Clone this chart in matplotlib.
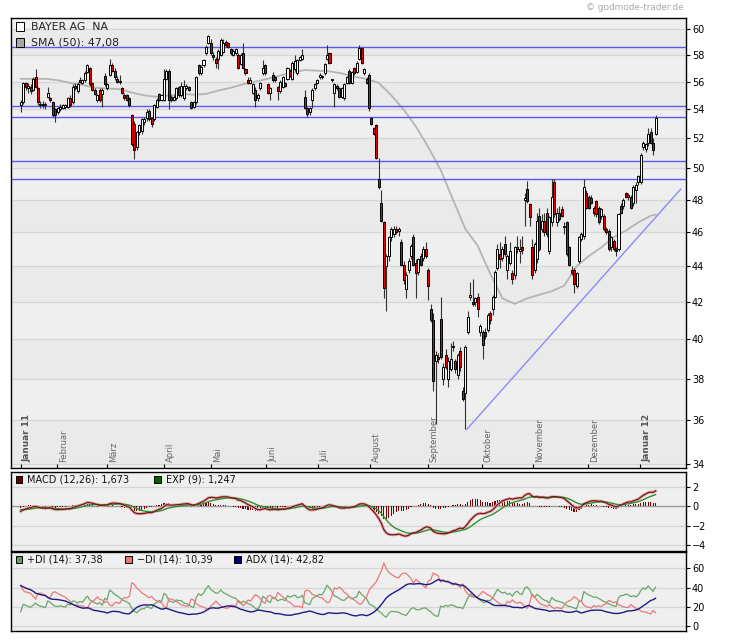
import numpy as np
import pandas as pd
import matplotlib
matplotlib.use('Agg')
import matplotlib.pyplot as plt
from matplotlib.patches import Rectangle
from matplotlib.ticker import NullLocator
from matplotlib.transforms import blended_transform_factory

# ---------------- data ----------------
opens = [54.3, 54.5, 55.9, 55.5, 55.6, 55.4, 56.3, 55.5, 54.3, 54.4,
         54.3, 54.9, 54.8, 54.5, 54.0, 53.8, 54.0, 54.1, 54.2, 54.2,
         54.8, 54.5, 55.7, 55.3, 56.1, 55.9, 56.1, 56.7, 57.0, 55.9,
         55.4, 54.7, 55.4, 55.1, 56.4, 55.5, 56.5, 57.2, 56.8, 56.2,
         56.0, 55.5, 55.0, 55.0, 54.8, 53.6, 53.0, 51.4, 52.4, 52.5,
         53.1, 53.4, 53.9, 53.4, 53.3, 54.2, 55.1, 54.7, 54.7, 56.2,
         56.8, 54.9, 54.7, 54.8, 55.6, 55.0, 54.8, 55.5, 55.6, 54.5,
         54.2, 54.5, 57.2, 56.6, 57.2, 58.1, 58.9, 58.9, 58.0, 57.7,
         57.7, 58.0, 58.2, 59.0, 58.9, 58.4, 58.0, 58.1, 58.0, 57.3,
         58.1, 56.9, 56.1, 55.9, 55.2, 55.4, 54.8, 55.5, 56.6, 57.2,
         55.8, 55.2, 56.5, 56.3, 55.6, 55.3, 55.6, 55.9, 56.2, 56.8,
         56.2, 56.9, 56.6, 57.6, 57.7, 54.9, 54.1, 53.8, 54.7, 55.5,
         55.9, 56.3, 56.3, 56.6, 57.7, 58.1, 56.1, 55.2, 55.7, 55.5,
         54.9, 54.8, 55.9, 56.8, 55.9, 57.0, 56.7, 57.7, 58.5, 56.6,
         56.2, 56.5, 53.4, 52.7, 52.9, 49.3, 47.8, 46.6, 44.0, 44.6,
         45.7, 45.9, 46.2, 46.1, 45.4, 44.1, 42.7, 43.8, 44.6, 45.7,
         44.2, 43.7, 44.6, 44.5, 45.0, 43.8, 41.6, 41.0, 38.9, 39.1,
         41.1, 38.0, 39.2, 38.0, 38.5, 39.6, 38.9, 38.2, 39.4, 37.4,
         37.3, 40.4, 42.3, 42.0, 42.0, 42.3, 40.4, 40.4, 40.4, 40.5,
         41.4, 41.6, 42.3, 43.9, 44.7, 44.5, 45.3, 43.8, 44.2, 43.6,
         43.5, 45.1, 44.9, 45.1, 48.0, 48.7, 47.7, 45.1, 43.8, 44.4,
         47.0, 46.2, 46.7, 47.2, 44.9, 46.6, 49.1, 46.6, 47.2, 47.4,
         46.4, 46.6, 45.1, 43.8, 43.8, 42.9, 44.3, 45.6, 45.8, 48.4,
         48.2, 48.1, 47.5, 47.9, 47.5, 47.0, 47.0, 46.2, 46.1, 45.1,
         45.5, 44.9, 45.0, 47.6, 47.6, 48.4, 48.3, 48.2, 47.8, 48.6,
         49.1, 49.1, 51.4, 51.3, 51.7, 52.4, 51.7, 52.3]
highs = [54.7, 56.0, 56.0, 55.9, 55.8, 56.3, 56.9, 55.6, 54.6, 54.6,
         54.5, 55.6, 54.9, 54.6, 54.1, 54.2, 54.4, 54.4, 54.4, 54.9,
         55.0, 55.8, 55.9, 56.0, 56.3, 56.2, 56.8, 57.3, 57.1, 56.0,
         55.5, 55.1, 55.5, 55.5, 56.6, 55.9, 57.7, 57.4, 57.0, 56.4,
         56.5, 55.6, 55.2, 55.1, 54.9, 53.7, 53.2, 52.5, 53.0, 53.4,
         53.5, 54.0, 54.0, 53.5, 54.4, 54.8, 55.2, 55.1, 56.9, 56.9,
         56.9, 55.0, 55.0, 55.6, 55.7, 56.0, 56.1, 55.8, 55.7, 54.6,
         54.6, 56.4, 57.3, 57.2, 57.7, 58.7, 59.5, 59.2, 58.2, 57.8,
         58.4, 59.3, 59.2, 59.1, 59.0, 58.5, 58.4, 58.5, 58.1, 58.1,
         58.9, 57.0, 56.3, 56.3, 55.9, 55.6, 55.2, 56.0, 57.6, 57.3,
         55.9, 55.6, 56.7, 56.4, 55.7, 56.1, 56.4, 56.0, 57.1, 56.9,
         57.5, 58.0, 57.7, 57.9, 58.4, 55.4, 54.2, 54.2, 55.5, 55.9,
         56.2, 56.6, 56.5, 57.4, 58.7, 58.2, 56.2, 55.9, 55.8, 55.6,
         55.6, 55.9, 56.4, 56.9, 56.8, 57.1, 57.5, 58.7, 58.6, 57.0,
         56.3, 56.6, 53.5, 52.8, 53.0, 50.7, 48.6, 46.7, 44.7, 45.8,
         46.3, 46.4, 46.4, 46.3, 45.6, 44.3, 43.7, 44.5, 45.3, 45.9,
         44.4, 44.5, 44.8, 45.2, 45.4, 43.9, 41.9, 41.4, 39.4, 39.3,
         42.3, 38.8, 39.5, 39.1, 39.8, 39.9, 39.0, 39.3, 39.6, 37.6,
         39.7, 41.5, 43.1, 43.3, 42.3, 42.5, 40.8, 40.5, 40.6, 41.4,
         41.5, 42.4, 43.8, 45.3, 45.4, 45.2, 45.8, 44.7, 45.4, 43.8,
         45.2, 45.8, 45.6, 45.8, 48.4, 49.2, 47.8, 45.6, 45.4, 47.2,
         47.5, 47.1, 47.2, 47.5, 47.0, 49.3, 49.3, 47.5, 47.6, 47.6,
         46.6, 46.7, 45.2, 44.0, 43.9, 43.7, 45.8, 46.0, 49.3, 48.6,
         48.3, 48.3, 47.6, 48.0, 47.6, 47.5, 47.1, 46.3, 46.2, 45.8,
         45.6, 45.1, 47.2, 47.8, 48.1, 48.5, 48.4, 48.3, 48.9, 49.1,
         49.6, 51.0, 51.8, 51.7, 52.7, 52.7, 52.0, 53.6]
lows = [53.8, 54.4, 55.4, 55.2, 55.1, 55.3, 55.5, 54.3, 54.1, 54.1,
        54.0, 54.8, 54.5, 53.5, 53.1, 53.7, 53.9, 54.0, 54.0, 54.1,
        54.2, 54.4, 55.4, 55.2, 55.9, 55.8, 56.0, 56.6, 55.7, 55.3,
        55.0, 54.5, 54.5, 54.2, 55.7, 55.4, 56.4, 56.7, 56.1, 55.9,
        55.8, 55.1, 54.7, 54.6, 54.2, 51.5, 50.6, 51.2, 52.2, 52.3,
        52.9, 53.2, 53.2, 52.8, 53.2, 54.1, 54.6, 54.6, 54.6, 56.1,
        54.0, 54.5, 54.6, 54.7, 54.9, 54.9, 54.7, 55.4, 55.3, 54.0,
        54.1, 54.4, 56.5, 56.5, 57.1, 58.0, 58.8, 58.0, 57.6, 57.0,
        56.9, 57.9, 58.1, 58.6, 58.5, 58.0, 57.9, 58.0, 56.9, 57.2,
        56.9, 56.5, 55.8, 55.8, 55.1, 54.2, 54.6, 55.4, 56.5, 56.5,
        55.1, 54.7, 56.0, 56.0, 54.7, 55.2, 55.5, 55.6, 56.1, 56.3,
        56.1, 56.8, 56.5, 57.5, 57.6, 54.0, 53.5, 53.6, 54.1, 55.4,
        55.8, 56.2, 56.2, 56.5, 57.6, 57.3, 56.0, 54.2, 55.4, 54.8,
        54.8, 54.7, 55.8, 55.8, 55.8, 56.5, 56.6, 57.6, 57.3, 56.5,
        55.8, 53.9, 52.9, 52.2, 50.6, 48.7, 46.6, 42.2, 41.5, 44.3,
        45.5, 45.7, 45.9, 45.8, 44.0, 43.0, 42.2, 43.6, 44.4, 44.0,
        42.2, 43.5, 44.0, 44.3, 44.5, 42.1, 40.9, 37.4, 35.8, 38.8,
        39.0, 37.7, 38.5, 37.6, 38.4, 39.4, 38.3, 38.0, 38.4, 36.9,
        35.6, 40.3, 42.1, 41.8, 41.8, 41.2, 40.2, 39.0, 40.0, 40.4,
        40.8, 41.3, 42.2, 43.8, 43.9, 44.3, 44.6, 43.3, 44.1, 43.0,
        43.3, 44.8, 44.2, 44.7, 46.4, 47.8, 46.4, 43.3, 43.6, 44.2,
        44.9, 46.0, 45.8, 45.7, 44.7, 46.4, 46.9, 46.4, 46.7, 46.9,
        45.9, 44.6, 44.0, 43.5, 42.5, 42.8, 44.2, 45.5, 45.6, 47.4,
        47.4, 47.7, 47.0, 46.9, 46.5, 46.8, 46.1, 45.9, 44.9, 44.9,
        44.9, 44.6, 44.9, 47.1, 47.4, 48.1, 48.0, 47.4, 47.6, 47.8,
        48.9, 49.0, 51.2, 51.1, 51.5, 51.6, 50.9, 52.2]
closes = [54.5, 55.9, 55.6, 55.7, 55.3, 56.2, 55.6, 54.5, 54.4, 54.3,
          54.4, 55.2, 54.7, 53.6, 53.6, 54.1, 54.2, 54.3, 54.3, 54.8,
          54.3, 55.6, 55.5, 55.8, 56.0, 56.1, 56.6, 57.2, 55.8, 55.4,
          55.1, 55.0, 54.7, 55.4, 55.8, 55.8, 57.2, 56.8, 56.3, 56.0,
          56.0, 55.2, 54.8, 54.7, 54.3, 51.6, 51.2, 52.4, 52.9, 53.3,
          53.3, 53.8, 53.3, 53.0, 54.3, 54.7, 54.7, 55.0, 56.2, 56.8,
          54.7, 54.7, 54.9, 55.5, 55.0, 55.7, 55.7, 55.7, 55.4, 54.1,
          54.5, 56.3, 56.6, 57.1, 57.6, 58.6, 59.4, 58.1, 57.8, 57.4,
          58.3, 59.1, 58.9, 58.7, 58.6, 58.1, 58.3, 58.4, 57.0, 58.0,
          57.0, 56.6, 55.9, 56.1, 55.8, 54.7, 55.0, 55.9, 57.0, 56.6,
          55.2, 55.5, 56.1, 56.1, 55.3, 56.0, 56.3, 55.7, 57.0, 56.4,
          57.4, 57.5, 57.6, 57.8, 58.0, 54.1, 53.7, 54.1, 55.4, 55.8,
          56.1, 56.5, 56.4, 57.3, 58.0, 57.4, 56.1, 55.8, 55.5, 54.9,
          55.5, 55.8, 56.3, 55.9, 56.7, 56.6, 57.4, 58.5, 57.4, 56.9,
          55.9, 54.1, 53.0, 52.3, 50.7, 48.8, 46.7, 42.8, 44.6, 45.7,
          46.2, 46.2, 46.0, 46.2, 44.1, 43.2, 43.5, 44.3, 45.2, 44.1,
          43.6, 44.4, 44.1, 45.0, 44.6, 42.9, 41.0, 37.9, 39.2, 39.0,
          39.1, 38.6, 38.6, 38.9, 39.0, 39.6, 38.5, 39.2, 38.6, 37.0,
          39.6, 41.2, 42.3, 41.9, 42.2, 41.6, 40.7, 39.7, 40.2, 41.3,
          41.0, 42.3, 43.7, 45.0, 44.4, 45.0, 44.7, 44.6, 44.9, 43.3,
          45.1, 45.0, 45.0, 44.95, 48.1, 47.9, 46.9, 43.5, 45.3, 46.7,
          45.0, 46.7, 46.0, 45.9, 46.9, 48.2, 47.1, 47.2, 46.8, 47.0,
          46.3, 44.7, 44.1, 43.6, 43.0, 43.6, 45.7, 45.9, 48.8, 47.5,
          47.5, 47.8, 47.2, 47.1, 46.6, 47.4, 46.2, 46.0, 45.0, 45.7,
          45.0, 44.9, 47.1, 47.2, 48.0, 48.2, 48.2, 47.5, 48.8, 48.9,
          49.5, 50.9, 51.7, 51.6, 52.3, 51.7, 51.2, 53.4]

# SMA(50) line (vertices)
sma_idx = [0, 5, 10, 15, 20, 25, 30, 35, 40, 45, 50, 55, 60, 65, 70, 75, 80, 85,
           90, 95, 100, 105, 110, 115, 120, 125, 130, 135, 140, 145, 150, 155,
           160, 165, 170, 175, 180, 185, 190, 195, 200, 205, 210, 215, 220, 225,
           230, 235, 240, 245, 250, 255, 257]
sma_vals = [56.2, 56.2, 56.2, 56.1, 55.9, 55.75, 55.55, 55.5, 55.45, 55.2, 55.0,
            54.9, 55.0, 55.1, 55.05, 55.1, 55.35, 55.55, 55.8, 56.0, 56.2, 56.45,
            56.65, 56.85, 56.8, 56.75, 56.6, 56.35, 56.2, 55.9, 55.0, 54.0, 52.8,
            51.4, 49.9, 48.0, 46.2, 45.2, 43.6, 42.2, 41.9, 42.2, 42.4, 42.6, 42.9,
            44.0, 44.6, 45.1, 45.7, 46.1, 46.6, 47.0, 47.08]

hlines = [58.61, 54.22, 53.45, 50.46, 49.29]
trend_x = [180.6, 267.2]
trend_y = [35.57, 48.67]

# indicator values at the left edge of the chart
macd_start = -0.5
signal_start = -0.32
pdi_start = 15.0
mdi_start = 42.0
adx_start = 42.0

month_pos = [0, 14.8, 35.1, 58.2, 77.2, 99.4, 120.5, 141.5, 164.8, 186.6, 207.5, 229.8, 250.8]
month_labels = ['Januar 11', 'Februar', 'März', 'April', 'Mai', 'Juni', 'Juli',
                'August', 'September', 'Oktober', 'November', 'Dezember', 'Januar 12']
price_ticks = list(range(34, 62, 2))
macd_ticks = [2, 0, -2, -4]
dmi_ticks = [0, 20, 40, 60]

legend_main = ['BAYER AG  NA', 'SMA (50): 47,08']
legend_macd = ['MACD (12,26): 1,673', 'EXP (9): 1,247']
legend_dmi = ['+DI (14): 37,38', '\u2212DI (14): 10,39', 'ADX (14): 42,82']

# ---------------- indicators derived from the OHLC data ----------------
c_arr = np.array(closes, dtype=float)
h_arr = np.array(highs, dtype=float)
l_arr = np.array(lows, dtype=float)
n = len(c_arr)

a12, a26, a9 = 2 / 13, 2 / 27, 2 / 10
e12 = np.empty(n)
e26 = np.empty(n)
sig = np.empty(n)
e12[0] = c_arr[0]
e26[0] = c_arr[0] - macd_start
macd = np.empty(n)
macd[0] = e12[0] - e26[0]
sig[0] = signal_start
for t in range(1, n):
    e12[t] = a12 * c_arr[t] + (1 - a12) * e12[t - 1]
    e26[t] = a26 * c_arr[t] + (1 - a26) * e26[t - 1]
    macd[t] = e12[t] - e26[t]
    sig[t] = a9 * macd[t] + (1 - a9) * sig[t - 1]
hist = macd - sig

tr = np.empty(n)
pdm = np.zeros(n)
mdm = np.zeros(n)
tr[0] = h_arr[0] - l_arr[0]
for t in range(1, n):
    tr[t] = max(h_arr[t] - l_arr[t], abs(h_arr[t] - c_arr[t - 1]), abs(l_arr[t] - c_arr[t - 1]))
    up = h_arr[t] - h_arr[t - 1]
    dn = l_arr[t - 1] - l_arr[t]
    if up > dn and up > 0:
        pdm[t] = up
    if dn > up and dn > 0:
        mdm[t] = dn
atr = np.empty(n)
spdm = np.empty(n)
smdm = np.empty(n)
atr[0] = tr[1:15].mean()
spdm[0] = pdi_start / 100 * atr[0]
smdm[0] = mdi_start / 100 * atr[0]
pdi = np.empty(n)
mdi = np.empty(n)
adx = np.empty(n)
pdi[0], mdi[0], adx[0] = pdi_start, mdi_start, adx_start
for t in range(1, n):
    atr[t] = atr[t - 1] * 13 / 14 + tr[t] / 14
    spdm[t] = spdm[t - 1] * 13 / 14 + pdm[t] / 14
    smdm[t] = smdm[t - 1] * 13 / 14 + mdm[t] / 14
    pdi[t] = 100 * spdm[t] / atr[t]
    mdi[t] = 100 * smdm[t] / atr[t]
    dxv = 100 * abs(pdi[t] - mdi[t]) / max(pdi[t] + mdi[t], 1e-9)
    adx[t] = adx[t - 1] * 13 / 14 + dxv / 14

# ---------------- figure ----------------
W, H = 730, 641
fig = plt.figure(figsize=(W / 100, H / 100), dpi=100)
fig.patch.set_facecolor('white')


def rect(l, t, r, b):
    return [l / W, 1 - b / H, (r - l) / W, (b - t) / H]


def fpt(xp, yp):
    return (xp / W, 1 - yp / H)


XL = (-4.05, 269.2)
x = np.arange(n)

ax = fig.add_axes(rect(10.7, 18.3, 685.7, 468))
axm = fig.add_axes(rect(10.7, 471.7, 685.7, 550.5))
axd = fig.add_axes(rect(10.7, 551.5, 685.7, 631))

for a in (ax, axm, axd):
    a.set_facecolor('#efefef')
    a.set_xlim(*XL)
    for s in a.spines.values():
        s.set_color('black')
        s.set_linewidth(1.0)

# main panel
ax.set_yscale('log')
ax.set_ylim(33.82, 60.82)
for k in range(len(price_ticks) - 1):
    if k % 2 == 0:
        ax.axhspan(price_ticks[k], price_ticks[k + 1], color='#eaeaea', lw=0, zorder=0)
for lv in price_ticks:
    ax.axhline(lv, color='#d6d6d6', lw=0.9, zorder=0.5)

ax.plot(sma_idx, sma_vals, color='#b4b4b4', lw=1.3, zorder=1.5)
for lv in hlines:
    ax.axhline(lv, color='#5858f5', lw=1.0, zorder=1.8)
ax.plot(trend_x, trend_y, color='#8a8aff', lw=1.0, zorder=1.8)

o = np.array(opens)
c = np.array(closes)
bot = np.minimum(o, c)
hgt = np.maximum(np.abs(c - o), 0.06)
cols = np.where(c >= o, 'white', '#ee0000')
ax.vlines(x, lows, highs, color='#333333', lw=0.8, zorder=2)
ax.bar(x, hgt, bottom=bot, width=0.82, color=cols, edgecolor='black', linewidth=0.7, zorder=3)

ax.yaxis.tick_right()
ax.yaxis.set_minor_locator(NullLocator())
ax.set_yticks(price_ticks)
ax.set_yticklabels([str(v) for v in price_ticks])
ax.yaxis.set_minor_formatter(plt.NullFormatter())
ax.tick_params(axis='y', which='major', direction='out', length=3, width=0.8, labelsize=7, pad=1.5)
ax.set_xticks(month_pos)
ax.tick_params(axis='x', direction='in', length=3, width=0.8, labelbottom=False)

tb = blended_transform_factory(ax.transData, ax.transAxes)
for pos, lab in zip(month_pos, month_labels):
    bold = lab.startswith('Januar')
    ax.text(pos + 2.6, 0.014, lab, transform=tb, rotation=90, ha='center', va='bottom',
            fontsize=6.4 if bold else 6.0, color='#555555' if bold else '#666666',
            fontweight='bold' if bold else 'normal', zorder=5)

# MACD panel
axm.set_ylim(-4.54, 3.59)
for g in (2, -2, -4):
    axm.axhline(g, color='#d6d6d6', lw=0.9, zorder=0.5)
axm.axhline(0, color='#9a9a9a', lw=1.0, zorder=0.6)
axm.bar(x, hist, width=0.45, color='#7a0000', zorder=2)
axm.plot(x, macd, color='#dcb0b0', lw=2.2, zorder=3)
axm.plot(x, sig, color='#2f8f2f', lw=1.0, zorder=3.5)
axm.plot(x, macd, color='#7a1515', lw=0.9, zorder=4)
axm.yaxis.tick_right()
axm.set_yticks(macd_ticks)
axm.set_yticklabels(['2', '0', '\u22122', '\u22124'])
axm.tick_params(axis='y', direction='out', length=3, width=0.8, labelsize=7, pad=1.5)
axm.set_xticks([])

# DMI panel
axd.set_ylim(-4.8, 77.1)
for g in dmi_ticks:
    axd.axhline(g, color='#d6d6d6', lw=0.9, zorder=0.5)
axd.plot(x, pdi, color='#6aa66a', lw=0.9, zorder=2)
axd.plot(x, mdi, color='#e87a7a', lw=0.9, zorder=2.2)
axd.plot(x, adx, color='#1c1c82', lw=1.0, zorder=3)
axd.yaxis.tick_right()
axd.set_yticks(dmi_ticks)
axd.set_yticklabels([str(v) for v in dmi_ticks])
axd.tick_params(axis='y', direction='out', length=3, width=0.8, labelsize=7, pad=1.5)
axd.set_xticks([])


# legends
def square(xp, yp, size, fc):
    fig.patches.append(Rectangle(fpt(xp, yp + size), size / W, size / H, transform=fig.transFigure,
                                 facecolor=fc, edgecolor='black', lw=0.7, zorder=10))


square(15.7, 22.0, 8.6, 'white')
fig.text(*fpt(30.7, 26.6), legend_main[0], fontsize=7.8, color='#222222', va='center', ha='left', zorder=11)
square(15.7, 38.3, 8.6, '#a8a8a8')
fig.text(*fpt(30.7, 42.9), legend_main[1], fontsize=7.8, color='#222222', va='center', ha='left', zorder=11)

square(15.7, 476.2, 6.6, '#6b0000')
fig.text(*fpt(27.3, 479.5), legend_macd[0], fontsize=7, color='#111111', va='center', ha='left', zorder=11)
square(154.0, 476.2, 6.6, '#006400')
fig.text(*fpt(165.7, 479.5), legend_macd[1], fontsize=7, color='#111111', va='center', ha='left', zorder=11)

square(15.7, 556.2, 6.6, '#5f9f5f')
fig.text(*fpt(27.3, 559.5), legend_dmi[0], fontsize=7, color='#111111', va='center', ha='left', zorder=11)
square(125.0, 556.2, 6.6, '#e07a7a')
fig.text(*fpt(136.7, 559.5), legend_dmi[1], fontsize=7, color='#111111', va='center', ha='left', zorder=11)
square(234.3, 556.2, 6.6, '#000070')
fig.text(*fpt(246.0, 559.5), legend_dmi[2], fontsize=7, color='#111111', va='center', ha='left', zorder=11)

fig.text(*fpt(684, 7), '\u00a9 godmode-trader.de', fontsize=6.4, color='#aaaaaa', ha='right', va='center')

fig.savefig('out.png', dpi=100, facecolor='white')
